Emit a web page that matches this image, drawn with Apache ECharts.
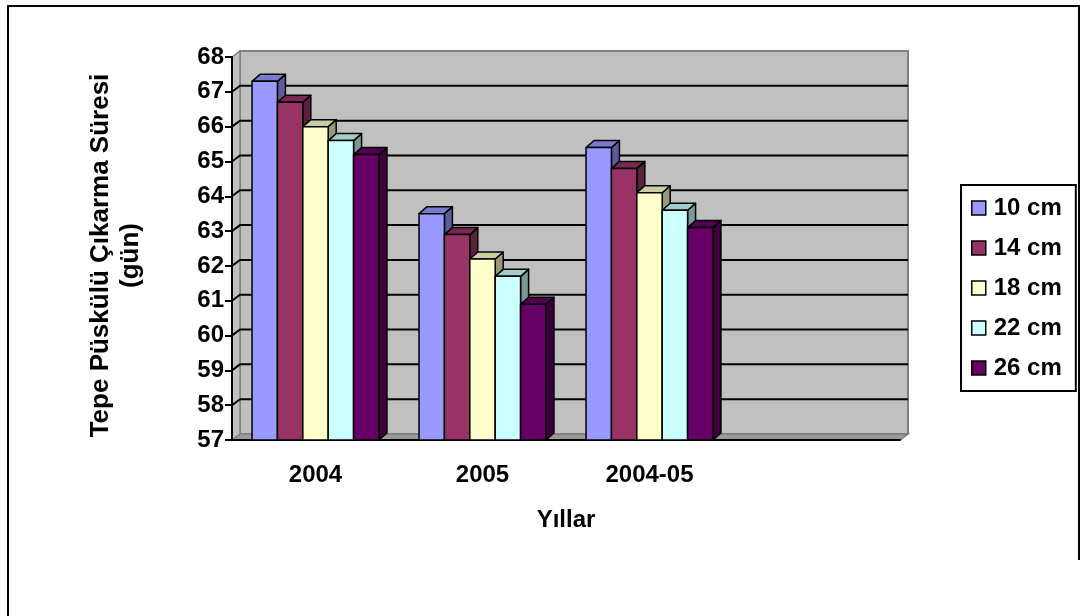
<!DOCTYPE html>
<html>
<head>
<meta charset="utf-8">
<script src="https://cdn.jsdelivr.net/npm/echarts@6/dist/echarts.min.js"></script>
<style>
  html, body { margin: 0; padding: 0; background: #fff; }
  #chart { width: 1087px; height: 616px; }
</style>
</head>
<body>
<div id="chart"></div>
<script>
// Categories and series values
const categories = ['2004', '2005', '2004-05', ''];
const seriesNames = ['10 cm', '14 cm', '18 cm', '22 cm', '26 cm'];
const cm10 = [67.3, 63.5, 65.4];
const cm14 = [66.7, 62.9, 64.8];
const cm18 = [66.0, 62.2, 64.1];
const cm22 = [65.6, 61.7, 63.6];
const cm26 = [65.2, 60.9, 63.1];
const seriesValues = [cm10, cm14, cm18, cm22, cm26];

// Value axis range and tick step
const yMin = 57, yMax = 68, yStep = 1;

// Face colours for the 3D columns: front, top, side
const frontColors = ['#9999FF', '#993366', '#FFFFCC', '#CCFFFF', '#660066'];
const topColors   = ['#7A7ACC', '#7A2952', '#CCCCA3', '#A3CCCC', '#520052'];
const sideColors  = ['#5C5C99', '#5C1F3D', '#99997A', '#7A9999', '#3D003D'];

const FONT = '"Liberation Sans", Arial, sans-serif';
const WALL_DX = 8, WALL_DY = 6;   // depth of walls / floor
const BAR_DX = 8, BAR_DY = 7;     // depth of each column
const GROUP_FRACTION = 0.76;      // share of a category band used by the column group

const chart = echarts.init(document.getElementById('chart'), null, { renderer: 'canvas' });

// Back wall, side wall, floor and gridlines of the 3D plot box
function renderWalls(params, api) {
  const cs = params.coordSys;
  const x0 = cs.x, x1 = cs.x + cs.width, yT = cs.y, yB = cs.y + cs.height;
  const kids = [];
  kids.push({ type: 'polygon', shape: { points: [[x0 + WALL_DX, yT - WALL_DY], [x1 + WALL_DX, yT - WALL_DY], [x1 + WALL_DX, yB - WALL_DY], [x0 + WALL_DX, yB - WALL_DY]] },
              style: { fill: '#C0C0C0', stroke: '#808080', lineWidth: 2 } });
  kids.push({ type: 'polygon', shape: { points: [[x0, yT], [x0 + WALL_DX, yT - WALL_DY], [x0 + WALL_DX, yB - WALL_DY], [x0, yB]] },
              style: { fill: '#C0C0C0', stroke: '#808080', lineWidth: 1.5 } });
  kids.push({ type: 'polygon', shape: { points: [[x0, yB], [x0 + WALL_DX, yB - WALL_DY], [x1 + WALL_DX, yB - WALL_DY], [x1, yB]] },
              style: { fill: '#9A9A9A', stroke: '#808080', lineWidth: 1.5 } });
  const n = Math.round((yMax - yMin) / yStep);
  for (let i = 1; i < n; i++) {
    const y = api.coord([0, yMin + i * yStep])[1];
    kids.push({ type: 'polyline', shape: { points: [[x0, y], [x0 + WALL_DX, y - WALL_DY], [x1 + WALL_DX, y - WALL_DY]] },
                style: { stroke: '#000', lineWidth: 2, fill: null } });
  }
  return { type: 'group', children: kids };
}

// One 3D column: front face, top face and right side face
function makeBarRenderer(sIdx) {
  return function (params, api) {
    const ci = api.value(0), v = api.value(1);
    const base = api.coord([ci, yMin]);
    const top = api.coord([ci, v]);
    const band = api.size([1, 0])[0];
    const groupW = band * GROUP_FRACTION;
    const barW = groupW / seriesNames.length;
    const x = base[0] - groupW / 2 + sIdx * barW;
    const ty = top[1], by = base[1];
    const stroke = { stroke: '#000', lineWidth: 1.5, lineJoin: 'round' };
    return {
      type: 'group',
      children: [
        { type: 'polygon', shape: { points: [[x + barW, ty], [x + barW + BAR_DX, ty - BAR_DY], [x + barW + BAR_DX, by - BAR_DY], [x + barW, by]] },
          style: Object.assign({ fill: sideColors[sIdx] }, stroke) },
        { type: 'polygon', shape: { points: [[x, ty], [x + BAR_DX, ty - BAR_DY], [x + barW + BAR_DX, ty - BAR_DY], [x + barW, ty]] },
          style: Object.assign({ fill: topColors[sIdx] }, stroke) },
        { type: 'rect', shape: { x: x, y: ty, width: barW, height: by - ty },
          style: Object.assign({ fill: frontColors[sIdx] }, stroke) }
      ]
    };
  };
}

const barSeries = seriesNames.map((name, s) => ({
  name: name,
  type: 'custom',
  z: 2,
  itemStyle: { color: frontColors[s] },
  renderItem: makeBarRenderer(s),
  encode: { x: 0, y: 1 },
  data: seriesValues[s].map((v, i) => [i, v])
}));

const option = {
  animation: false,
  backgroundColor: '#fff',
  textStyle: { fontFamily: FONT },
  graphic: [{
    type: 'polyline', silent: true,
    shape: { points: [[8, 616], [8, 6], [1079, 6], [1079, 560]] },
    style: { stroke: '#000', lineWidth: 2, fill: null }
  }],
  grid: { left: 232, top: 57, width: 668, height: 383, containLabel: false },
  legend: {
    orient: 'vertical',
    left: 961, top: 185,
    padding: [11, 14, 11, 10],
    itemGap: 16,
    itemWidth: 14, itemHeight: 14,
    borderColor: '#000', borderWidth: 2,
    backgroundColor: '#fff',
    textStyle: { color: '#000', fontWeight: 'bold', fontSize: 24, fontFamily: FONT, padding: [0, 0, 0, 3] },
    data: seriesNames.map((n, s) => ({
      name: n, icon: 'rect',
      itemStyle: { color: frontColors[s], borderColor: '#000', borderWidth: 1.5 }
    }))
  },
  xAxis: {
    type: 'category',
    data: categories,
    axisLine: { lineStyle: { color: '#000', width: 2 } },
    axisTick: { length: 7, lineStyle: { color: '#000', width: 2 } },
    axisLabel: { color: '#000', fontWeight: 'bold', fontSize: 24, fontFamily: FONT, margin: 23 },
    name: 'Yıllar',
    nameLocation: 'middle',
    nameGap: 68,
    nameTextStyle: { color: '#000', fontWeight: 'bold', fontSize: 24, fontFamily: FONT }
  },
  yAxis: {
    type: 'value',
    min: yMin, max: yMax, interval: yStep,
    axisLine: { show: true, lineStyle: { color: '#000', width: 2 } },
    axisTick: { show: true, length: 7, lineStyle: { color: '#000', width: 2 } },
    axisLabel: { color: '#000', fontWeight: 'bold', fontSize: 24, fontFamily: FONT, margin: 8 },
    splitLine: { show: false },
    name: 'Tepe Püskülü Çıkarma Süresi\n(gün)',
    nameLocation: 'middle',
    nameRotate: 90,
    nameGap: 86,
    nameTextStyle: { color: '#000', fontWeight: 'bold', fontSize: 26, fontFamily: FONT, lineHeight: 30, align: 'center', padding: [0, 14, 0, 0] }
  },
  series: [{
    name: 'walls',
    type: 'custom',
    z: -1,
    silent: true,
    renderItem: renderWalls,
    encode: { x: 0, y: 1 },
    data: [[0, yMin]]
  }].concat(barSeries)
};

chart.setOption(option);
</script>
</body>
</html>
